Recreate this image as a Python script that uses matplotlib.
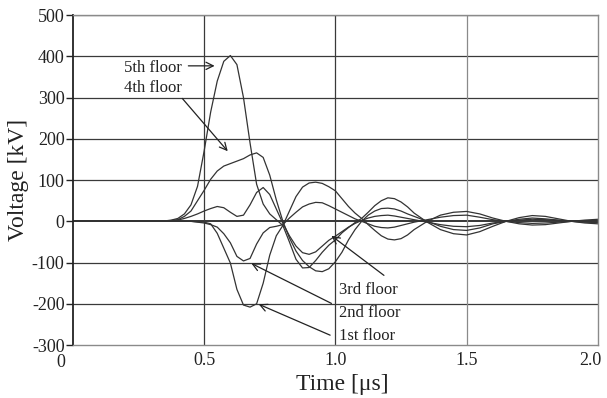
import numpy as np
import matplotlib.pyplot as plt
from matplotlib.transforms import ScaledTranslation

plt.rcParams['font.family'] = ['Liberation Serif', 'DejaVu Serif']
plt.rcParams['axes.unicode_minus'] = False

# time axis [us]
time_us = [0.0, 0.30, 0.35, 0.375, 0.40, 0.425, 0.45, 0.475, 0.50, 0.525, 0.55, 0.575,
           0.60, 0.625, 0.65, 0.675, 0.70, 0.725, 0.75, 0.775, 0.80, 0.825, 0.85, 0.875,
           0.90, 0.925, 0.95, 0.975, 1.00, 1.025, 1.05, 1.075, 1.10, 1.125, 1.15, 1.175,
           1.20, 1.225, 1.25, 1.275, 1.30, 1.35, 1.40, 1.45, 1.50, 1.55, 1.60, 1.65,
           1.70, 1.75, 1.80, 1.85, 1.90, 1.95, 2.00]

# voltages [kV]
floor5 = [0, 0, 1, 3, 7, 18, 40, 85, 170, 265, 340, 388,
          402, 380, 300, 190, 90, 42, 18, 4, -10, -50, -92, -113,
          -112, -95, -75, -58, -45, -28, -15, -3, 7, 22, 38, 50,
          57, 55, 47, 35, 20, -2, -20, -30, -33, -25, -12, 0,
          9, 14, 12, 6, 0, -4, -6]
floor4 = [0, 0, 0, 2, 4, 12, 25, 50, 75, 102, 122, 134,
          140, 146, 152, 161, 166, 155, 112, 52, 0, -40, -72, -95,
          -110, -120, -122, -115, -98, -75, -45, -20, 0, 15, 25, 31,
          32, 30, 25, 18, 12, 0, -12, -20, -22, -16, -6, 0,
          5, 8, 6, 3, 0, -2, -3]
floor3 = [0, 0, 0, 1, 3, 7, 12, 18, 25, 31, 36, 33,
          22, 12, 15, 40, 70, 82, 65, 30, -5, -35, -60, -76,
          -80, -74, -60, -46, -36, -25, -14, -5, 2, 8, 12, 14,
          15, 13, 10, 7, 4, -2, -8, -12, -13, -10, -4, 0,
          3, 5, 4, 2, 0, -1, -2]
floor2 = [0, 0, 0, 0, 0, 0, 0, -2, -4, -8, -14, -30,
          -52, -85, -96, -90, -55, -28, -15, -12, -8, 8, 22, 35,
          42, 46, 45, 38, 30, 22, 14, 6, 0, -6, -12, -15,
          -16, -14, -10, -6, -2, 4, 10, 14, 15, 10, 4, 0,
          -3, -5, -4, -2, 0, 1, 2]
floor1 = [0, 0, 0, 0, 0, 0, 0, -1, -2, -6, -29, -65,
          -101, -165, -203, -208, -200, -150, -82, -35, -10, 25, 60, 83,
          93, 95, 92, 84, 74, 55, 36, 20, 7, -8, -22, -35,
          -43, -45, -42, -33, -20, 0, 15, 22, 24, 18, 8, 0,
          -6, -9, -8, -4, 0, 3, 5]

curves = [floor5, floor4, floor3, floor2, floor1]

fig = plt.figure(figsize=(6.07, 3.98), dpi=100)
ax = fig.add_axes([0.120, 0.133, 0.865, 0.829])

for yv in range(-200, 501, 100):
    ax.axhline(yv, color='#3a3a3a' if yv != 0 else 'black', lw=0.9 if yv != 0 else 1.1, zorder=1)
for xv, c in [(0.5, '#3a3a3a'), (1.0, '#3a3a3a'), (1.5, '#8a8a8a')]:
    ax.axvline(xv, color=c, lw=0.9, zorder=1)

for v in curves:
    ax.plot(time_us, v, color='#333333', lw=0.9, zorder=2)

ax.set_xlim(0, 2.0)
ax.set_ylim(-300, 500)
ax.set_xticks([0, 0.5, 1.0, 1.5, 2.0])
ax.set_xticklabels(['0', '0.5', '1.0', '1.5', '2.0'])
ax.set_yticks(range(-300, 501, 100))
ax.tick_params(axis='x', length=0, pad=5, labelsize=13, colors='#222222')
ax.tick_params(axis='y', length=5, width=1, pad=1, labelsize=13, colors='#222222')

for sp in ['top', 'right', 'bottom']:
    ax.spines[sp].set_color('#8a8a8a')
    ax.spines[sp].set_linewidth(1.0)
ax.spines['left'].set_color('#222222')
ax.spines['left'].set_linewidth(1.3)

# shift the end labels like the original
xl = ax.get_xticklabels()
xl[0].set_transform(xl[0].get_transform() + ScaledTranslation(-0.12, -0.02, fig.dpi_scale_trans))
xl[-1].set_transform(xl[-1].get_transform() + ScaledTranslation(-0.08, 0, fig.dpi_scale_trans))

ax.set_xlabel('Time [μs]', fontsize=17, color='#222222', labelpad=2)
ax.xaxis.label.set_transform(ax.xaxis.label.get_transform() + ScaledTranslation(0.07, 0, fig.dpi_scale_trans))
ax.set_ylabel('Voltage [kV]', fontsize=17, color='#222222', labelpad=2)

arr = dict(arrowstyle='->', color='#222222', lw=0.9, shrinkA=0, shrinkB=0,
           mutation_scale=13)
tsize = 12
ax.annotate('5th floor', xy=(0.54, 377), xytext=(0.193, 373), fontsize=tsize,
            va='center', ha='left', color='#222222')
ax.annotate('', xy=(0.54, 377), xytext=(0.44, 377), arrowprops=arr)
ax.annotate('4th floor', xy=(0.59, 170), xytext=(0.193, 324), fontsize=tsize,
            va='center', ha='left', color='#222222')
ax.annotate('', xy=(0.59, 170), xytext=(0.417, 298), arrowprops=arr)
ax.annotate('3rd floor', xy=(0.985, -35), xytext=(1.015, -167), fontsize=tsize,
            va='center', ha='left', color='#222222')
ax.annotate('', xy=(0.985, -35), xytext=(1.185, -131), arrowprops=arr)
ax.annotate('2nd floor', xy=(0.68, -100), xytext=(1.015, -223), fontsize=tsize,
            va='center', ha='left', color='#222222')
ax.annotate('', xy=(0.68, -102), xytext=(0.985, -199), arrowprops=arr)
ax.annotate('1st floor', xy=(0.71, -200), xytext=(1.015, -278), fontsize=tsize,
            va='center', ha='left', color='#222222')
ax.annotate('', xy=(0.708, -201), xytext=(0.98, -276), arrowprops=arr)

fig.savefig('out.png', dpi=100)
